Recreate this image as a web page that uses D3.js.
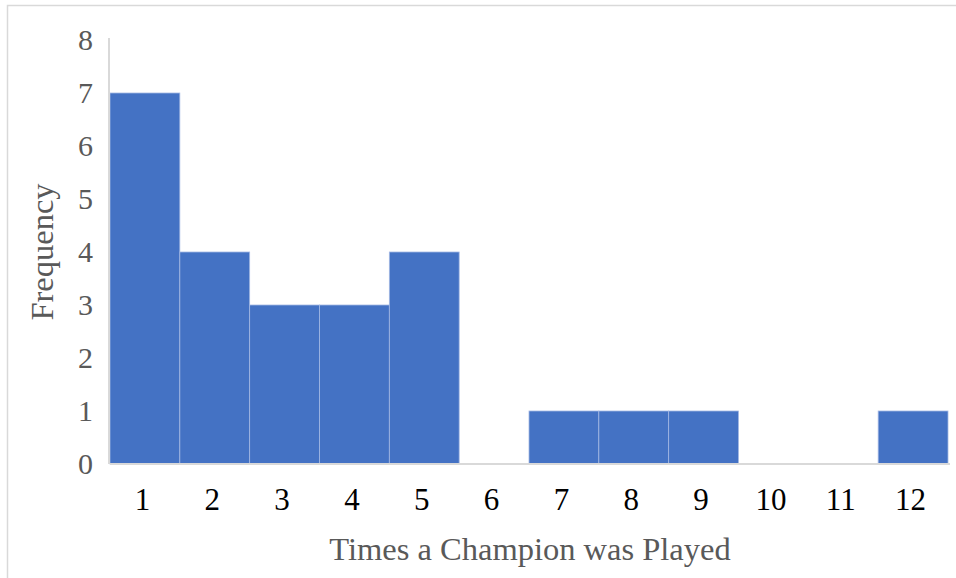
<!DOCTYPE html>
<html>
<head>
<meta charset="utf-8">
<script src="https://cdn.jsdelivr.net/npm/d3@7"></script>
<style>
  html, body { margin: 0; padding: 0; background: #fff; }
  svg { display: block; }
  text { font-family: "Liberation Serif", "Times New Roman", serif; }
</style>
</head>
<body>
<svg id="chart" width="956" height="578"></svg>
<script>
// Histogram bins and how often each count occurred
const bins = ["1", "2", "3", "4", "5", "6", "7", "8", "9", "10", "11", "12"];
const frequency = [7, 4, 3, 3, 4, 0, 1, 1, 1, 0, 0, 1];
const yTicks = [0, 1, 2, 3, 4, 5, 6, 7, 8];

const svg = d3.select("#chart");
const W = 956, H = 578;
const margin = { left: 110, right: 8, top: 40, bottom: 114 };

// Outer chart frame
svg.append("rect")
  .attr("x", 7.5).attr("y", 5.5)
  .attr("width", W + 20).attr("height", H + 20)
  .attr("fill", "#fff").attr("stroke", "#d9d9d9").attr("stroke-width", 1.5);

const x = d3.scaleBand()
  .domain(bins)
  .range([margin.left, W - margin.right])
  .padding(0);

const y = d3.scaleLinear()
  .domain([0, 8])
  .range([H - margin.bottom, margin.top]);

// Bars
svg.append("g")
  .selectAll("rect")
  .data(bins.map((b, i) => ({ bin: b, value: frequency[i] })))
  .join("rect")
  .attr("x", d => x(d.bin))
  .attr("y", d => y(d.value))
  .attr("width", x.bandwidth())
  .attr("height", d => y(0) - y(d.value))
  .attr("fill", "#4472c4")
  .attr("stroke", "#a4b8e4")
  .attr("stroke-width", 0.8);

// Y axis
const yAxis = svg.append("g")
  .attr("transform", `translate(${margin.left - 1},0)`)
  .call(d3.axisLeft(y).tickValues(yTicks).tickFormat(d3.format("d")).tickSize(0).tickPadding(16));
yAxis.select(".domain")
  .attr("stroke", "#d9d9d9").attr("stroke-width", 2)
  .attr("d", `M0,${margin.top - 2}V${y(0)}`);
yAxis.selectAll("text")
  .attr("fill", "#595959")
  .style("font-size", "30px")
  .attr("dy", "0.32em");

// X axis
const xAxis = svg.append("g")
  .attr("transform", `translate(0,${y(0)})`)
  .call(d3.axisBottom(x).tickSize(0).tickPadding(24));
xAxis.select(".domain")
  .attr("stroke", "#d9d9d9").attr("stroke-width", 2)
  .attr("d", `M${margin.left},0H${W - 6}`);
xAxis.selectAll("text")
  .attr("fill", "#000")
  .style("font-size", "31px")
  .attr("dx", "-0.08em");

// Axis titles
svg.append("text")
  .attr("x", 530)
  .attr("y", 560)
  .attr("text-anchor", "middle")
  .attr("fill", "#595959")
  .style("font-size", "32.5px")
  .text("Times a Champion was Played");

svg.append("text")
  .attr("transform", `translate(53,${(y(0) + y(8)) / 2}) rotate(-90)`)
  .attr("text-anchor", "middle")
  .attr("fill", "#595959")
  .style("font-size", "32.5px")
  .text("Frequency");
</script>
</body>
</html>
